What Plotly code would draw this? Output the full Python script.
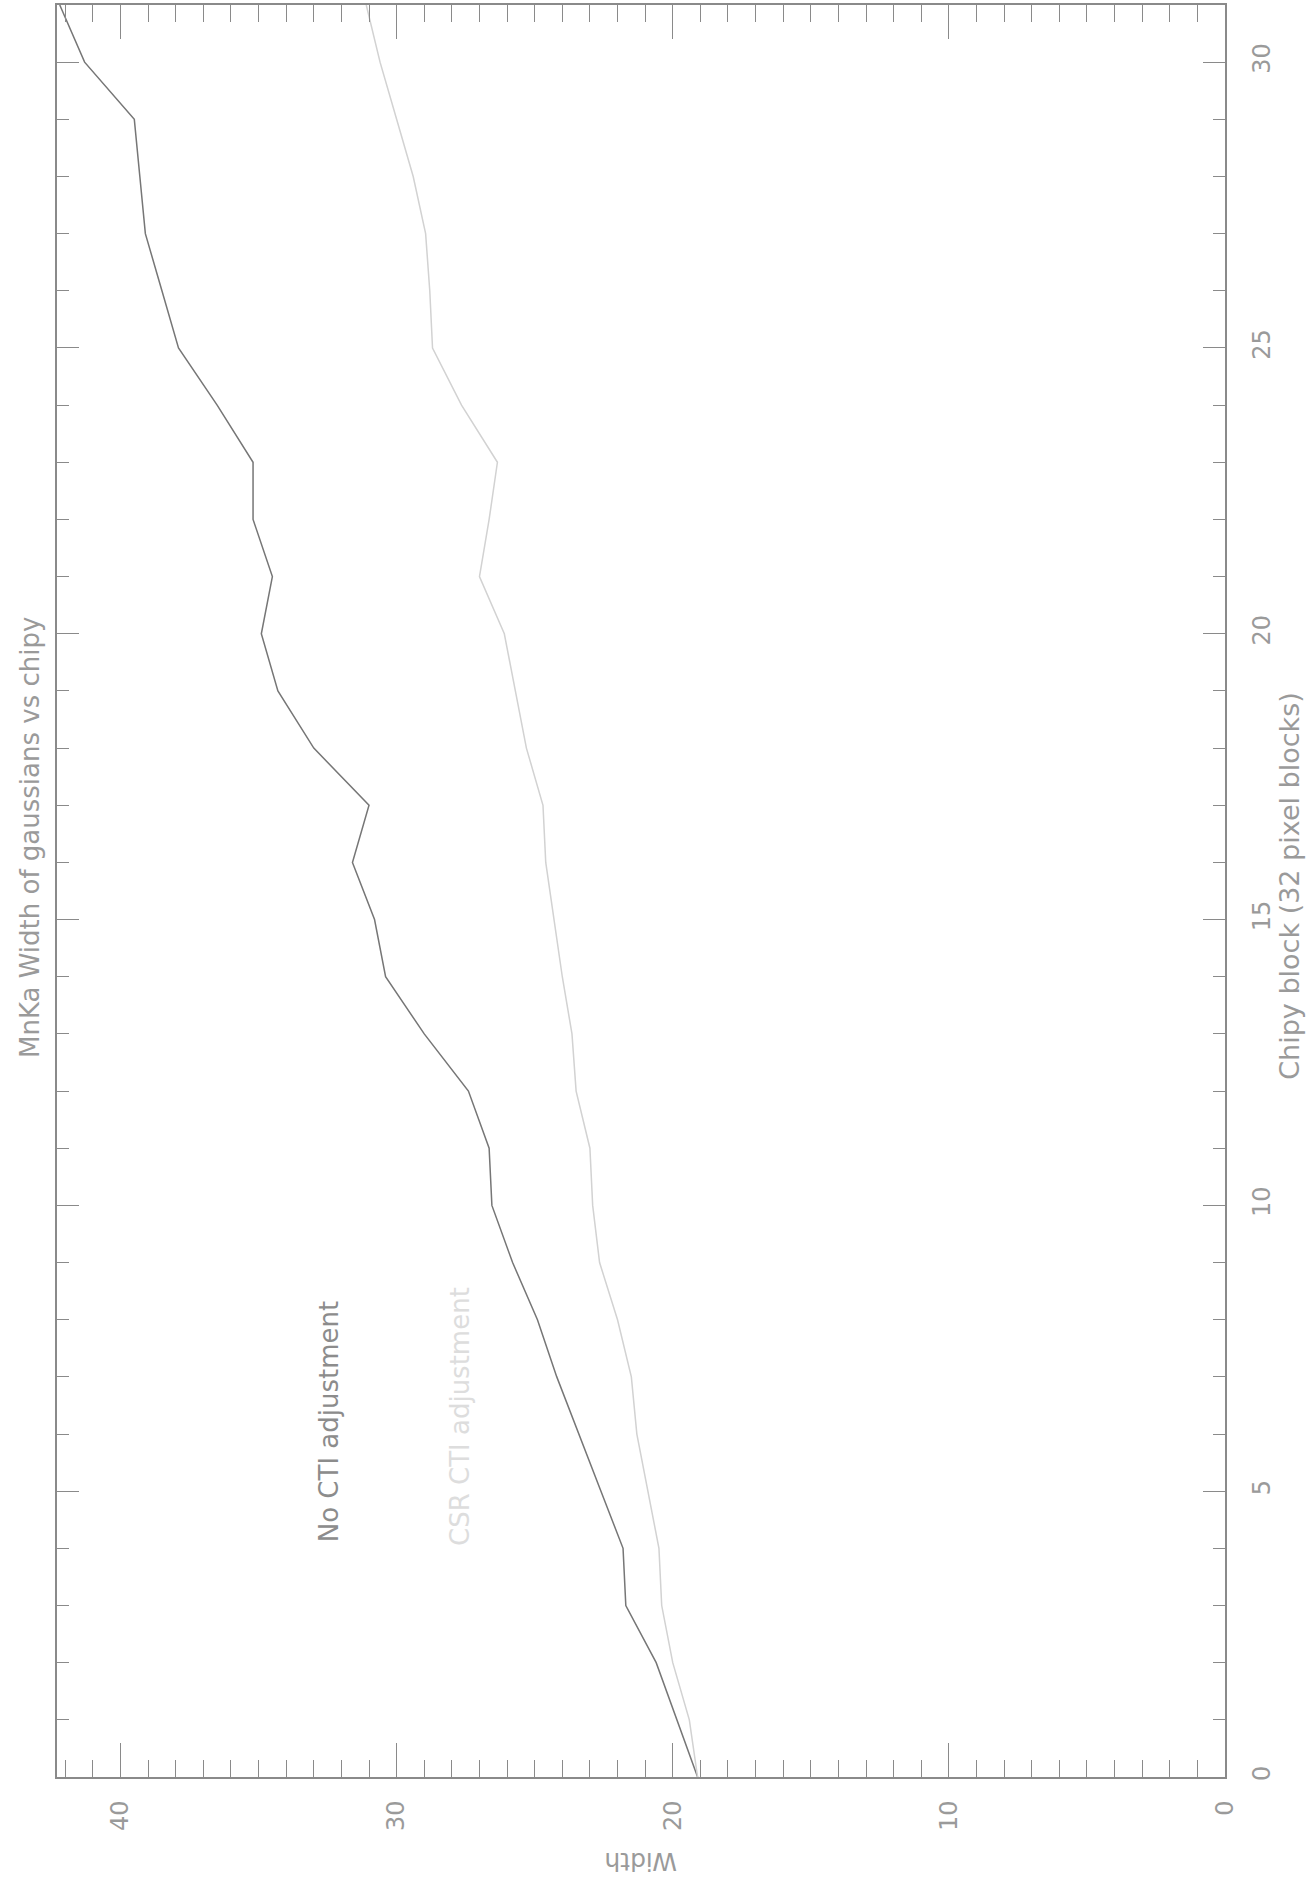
import plotly.graph_objects as go

# Chipy block index (32 pixel blocks)
chipy = [0, 1, 2, 3, 4, 5, 6, 7, 8, 9, 10, 11, 12, 13, 14, 15,
         16, 17, 18, 19, 20, 21, 22, 23, 24, 25, 26, 27, 28, 29, 30, 31]

# MnKa gaussian width, no CTI adjustment
width_no_cti = [19.1, 19.85, 20.6, 21.7, 21.8, 22.6, 23.4, 24.2, 24.9, 25.8,
                26.55, 26.65, 27.4, 29.0, 30.4, 30.8, 31.6, 31.0, 33.0, 34.3,
                34.9, 34.5, 35.2, 35.2, 36.5, 37.9, 38.5, 39.1, 39.3, 39.5,
                41.3, 42.2]

# MnKa gaussian width, CSR CTI adjustment
width_csr_cti = [19.1, 19.4, 20.0, 20.4, 20.5, 20.9, 21.3, 21.5, 22.0, 22.65,
                 22.9, 23.0, 23.5, 23.65, 24.0, 24.3, 24.6, 24.7, 25.3, 25.7,
                 26.1, 27.0, 26.65, 26.35, 27.65, 28.7, 28.8, 28.95, 29.4, 30.0,
                 30.6, 31.1]

width_ticks = [0, 10, 20, 30, 40]
chipy_ticks = [0, 5, 10, 15, 20, 25, 30]

WIDTH_MAX = 42.3
CHIPY_MAX = 31

FONT = "DejaVu Sans"
AXIS_COL = "#8a8a8a"
TEXT_COL = "#9a9a9a"

fig = go.Figure()

# The page is laid out rotated: chipy runs up the page, width runs right-to-left.
fig.add_trace(go.Scatter(
    x=width_no_cti, y=chipy, mode="lines",
    line=dict(color="#767676", width=1.5),
    showlegend=False, hoverinfo="skip",
))
fig.add_trace(go.Scatter(
    x=width_csr_cti, y=chipy, mode="lines",
    line=dict(color="#d2d2d2", width=1.5),
    showlegend=False, hoverinfo="skip",
))

fig.update_xaxes(
    range=[WIDTH_MAX, 0],
    tickvals=width_ticks,
    ticktext=[str(v) for v in width_ticks],
    tickangle=-90,
    ticks="inside", ticklen=34, tickwidth=1.4, tickcolor=AXIS_COL,
    minor=dict(dtick=1, tick0=0, ticks="inside", ticklen=17,
               tickwidth=1.4, tickcolor=AXIS_COL),
    showline=True, linecolor=AXIS_COL, linewidth=1.6, mirror="ticks",
    showgrid=False, zeroline=False,
    ticklabelstandoff=12,
    tickfont=dict(family=FONT, size=24, color=TEXT_COL),
)
fig.update_yaxes(
    range=[0, CHIPY_MAX],
    side="right",
    tickvals=chipy_ticks,
    ticktext=[str(v) for v in chipy_ticks],
    tickangle=-90,
    ticks="inside", ticklen=22, tickwidth=1.4, tickcolor=AXIS_COL,
    minor=dict(dtick=1, tick0=0, ticks="inside", ticklen=12,
               tickwidth=1.4, tickcolor=AXIS_COL),
    showline=True, linecolor=AXIS_COL, linewidth=1.6, mirror="ticks",
    showgrid=False, zeroline=False,
    ticklabelstandoff=14,
    tickfont=dict(family=FONT, size=24, color=TEXT_COL),
)

annotations = [
    # plot title, down the left edge
    dict(text="MnKa Width of gaussians vs chipy", xref="paper", yref="paper",
         x=-0.023, y=0.53, xanchor="center", yanchor="middle", textangle=-90,
         showarrow=False, font=dict(family=FONT, size=26, color=TEXT_COL)),
    # chipy axis title, right edge
    dict(text="Chipy block (32 pixel blocks)", xref="paper", yref="paper",
         x=1.0557, y=0.503, xanchor="center", yanchor="middle", textangle=-90,
         showarrow=False, font=dict(family=FONT, size=27, color=TEXT_COL)),
    # width axis title, upside down under the axis
    dict(text="Width", xref="paper", yref="paper",
         x=0.5, y=-0.048, xanchor="center", yanchor="middle", textangle=180,
         showarrow=False, font=dict(family=FONT, size=25, color=TEXT_COL)),
    # series labels
    dict(text="No CTI adjustment", xref="x", yref="y",
         x=32.47, y=4.07, xanchor="center", yanchor="bottom", textangle=-90,
         showarrow=False, font=dict(family=FONT, size=26, color="#8c8c8c")),
    dict(text="CSR CTI adjustment", xref="x", yref="y",
         x=27.7, y=4.0, xanchor="center", yanchor="bottom", textangle=-90,
         showarrow=False, font=dict(family=FONT, size=26, color="#dddddd")),
]

fig.update_layout(
    width=1306, height=1881,
    margin=dict(l=57, r=81, t=3, b=104),
    paper_bgcolor="white", plot_bgcolor="white",
    annotations=annotations,
    showlegend=False,
)

fig.write_html("out.html")
